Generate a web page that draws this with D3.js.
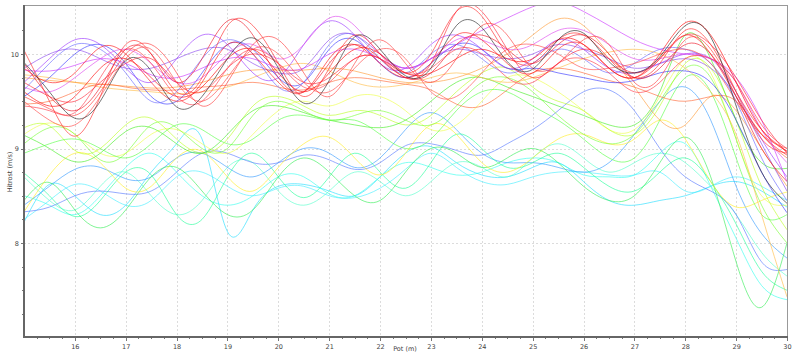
<!doctype html>
<html lang="en">
<head>
  <meta charset="utf-8">
  <title>Hitrost</title>
  <script src="https://d3js.org/d3.v7.min.js"></script>
  <style>
    body { margin: 0; background: #fff; }
    svg text { font-family: "DejaVu Sans", Arial, sans-serif; fill: #444; }
  </style>
</head>
<body>
  <div id="chart"></div>
  <script type="text/javascript">

    var width = 800, height = 354;

    // distance along track (m), one value every half metre
    var pot = d3.range(15, 30.01, 0.5);

    // speed series (m/s)
    var black1 = [9.91,9.6,9.32,9.5,9.93,9.82,9.44,9.55,9.95,10.17,9.85,9.48,9.72,10.18,10.05,9.77,9.85,10.3,10.28,9.92,9.84,10.15,10.22,9.92,9.8,9.97,10.3,10.18,9.45,8.75,8.42];
    var red1 = [10.04,9.5,9.13,9.55,10.1,10.0,9.6,9.75,10.3,10.3,9.9,9.55,9.85,10.2,10.0,9.8,10.0,10.45,10.4,10.0,9.9,10.15,10.2,9.95,9.75,9.9,10.25,10.1,9.6,9.1,8.95];
    var red2 = [9.55,9.42,9.35,9.6,10.0,10.1,9.8,9.45,9.7,10.1,10.15,9.8,9.55,9.9,10.15,9.9,9.7,9.95,10.3,10.2,9.85,9.9,10.15,10.1,9.7,9.75,10.15,10.05,9.6,9.2,8.97];
    var red3 = [9.85,9.7,9.8,10.07,10.0,9.7,9.5,9.7,10.1,10.0,9.7,9.6,9.95,10.1,9.9,9.75,9.9,10.2,10.15,9.9,9.8,10.05,10.1,9.85,9.75,9.95,10.2,10.0,9.55,9.15,8.93];
    var red4 = [9.45,9.4,9.38,9.75,10.05,9.9,9.55,9.5,9.85,10.05,9.9,9.65,9.7,9.95,9.95,9.8,9.85,10.05,10.0,9.75,9.7,9.9,9.95,9.8,9.6,9.7,9.95,9.95,9.7,9.25,9.0];
    var red5 = [9.7,9.55,9.5,9.7,9.9,9.95,9.7,9.6,9.85,10.0,9.9,9.7,9.75,9.95,9.95,9.75,9.9,10.45,10.45,10.05,9.75,9.9,10.05,9.95,9.8,9.95,10.2,10.1,9.75,9.3,8.95];
    var red6 = [9.9,9.55,9.4,9.65,10.05,10.0,9.7,9.95,10.35,10.2,9.75,9.6,9.9,10.1,9.95,9.75,9.8,10.1,10.2,10.05,9.9,10.1,10.2,10.0,9.75,9.85,10.1,10.0,9.55,9.0,8.65];
    var red7 = [9.6,9.45,9.55,9.85,9.95,9.75,9.55,9.65,9.95,10.05,9.8,9.6,9.8,10.05,10.0,9.8,9.8,9.95,10.05,9.95,9.95,10.15,10.1,9.85,9.75,10.0,10.33,10.2,9.7,9.2,8.97];
    var red8 = [9.5,9.3,9.25,9.55,9.95,10.05,9.7,9.5,9.75,10.05,10.0,9.7,9.6,9.85,10.05,9.95,9.6,9.55,9.8,10.05,10.1,10.0,9.85,9.85,9.9,10.0,10.05,9.9,9.5,9.15,9.0];
    var orangeRed = [9.47,9.5,9.6,9.68,9.65,9.62,9.62,9.65,9.67,9.7,9.65,9.62,9.7,9.75,9.72,9.68,9.62,9.47,9.45,9.62,9.8,9.85,9.8,9.72,9.65,9.55,9.5,9.55,9.5,9.15,8.9];
    var orange1 = [9.75,9.72,9.7,9.68,9.66,9.64,9.65,9.7,9.78,9.83,9.83,9.83,9.85,9.82,9.75,9.7,9.7,9.75,9.85,10.0,10.2,10.37,10.3,10.0,9.65,9.3,9.25,9.55,9.4,9.0,8.6];
    var orange2 = [9.78,9.75,9.7,9.65,9.62,9.6,9.58,9.6,9.65,9.75,9.85,9.9,9.82,9.7,9.65,9.68,9.75,9.8,9.75,9.7,9.75,9.85,9.95,10.02,10.05,10.0,9.85,9.6,9.15,8.3,7.43];
    var violet1 = [9.7,9.95,10.15,10.1,9.85,9.7,9.95,10.2,10.1,9.8,9.75,10.1,10.35,10.2,9.9,9.85,10.1,10.2,10.05,9.85,9.95,10.15,10.05,9.85,9.8,9.9,10.0,9.95,9.6,9.1,8.7];
    var violet2 = [9.85,10.0,10.05,9.95,9.85,9.85,9.95,10.05,10.05,9.9,9.8,9.85,10.15,10.2,10.0,9.85,9.95,10.05,10.0,9.95,10.0,10.1,10.05,9.95,9.85,9.9,9.95,9.85,9.55,9.05,8.55];
    var magenta1 = [9.83,9.82,9.88,9.95,9.9,9.78,9.75,9.85,9.95,9.95,9.85,9.85,10.0,10.05,9.95,9.85,9.95,10.1,10.25,10.38,10.5,10.55,10.45,10.3,10.15,10.05,10.0,9.95,9.75,9.3,8.65];
    var magenta2 = [9.65,9.6,9.75,9.95,10.05,9.9,9.7,9.75,10.0,10.1,9.95,10.1,10.38,10.3,10.0,9.85,9.95,10.15,10.15,10.05,10.1,10.25,10.25,10.1,9.95,9.95,10.0,9.95,9.7,9.2,8.85];
    var blue1 = [9.55,9.75,10.0,10.1,9.9,9.55,9.5,9.8,10.1,10.05,9.75,9.7,10.05,10.15,9.9,9.75,9.9,10.1,10.05,9.85,9.85,9.8,9.75,9.7,9.72,9.8,9.82,9.7,9.3,8.75,8.32];
    var blue2 = [9.62,9.9,10.1,10.05,9.8,9.5,9.6,9.95,10.15,10.0,9.65,9.7,10.1,10.2,9.95,9.8,10.0,10.1,9.95,9.8,9.9,10.05,9.95,9.8,9.9,10.05,10.05,9.9,9.5,8.9,8.45];
    var green1 = [9.14,9.0,8.86,8.95,9.18,9.22,9.05,8.95,9.15,9.4,9.45,9.38,9.3,9.25,9.22,9.3,9.5,9.7,9.75,9.65,9.55,9.45,9.35,9.25,9.25,9.6,10.2,9.95,9.3,8.85,8.79];
    var green2 = [9.05,9.22,9.15,8.88,8.95,9.25,9.22,9.0,9.0,9.35,9.5,9.4,9.3,9.35,9.4,9.3,9.25,9.45,9.7,9.75,9.6,9.35,9.15,9.05,9.15,9.5,9.85,9.75,9.1,8.4,8.0];
    var green4 = [8.95,9.05,9.1,9.0,8.9,9.05,9.25,9.2,9.05,9.1,9.3,9.35,9.3,9.3,9.15,9.0,9.1,9.4,9.6,9.6,9.45,9.3,9.1,8.9,8.9,9.3,9.75,9.6,8.9,8.3,8.3];
    var yellowGreen = [9.22,9.24,8.98,9.0,9.25,9.32,9.1,8.95,9.1,9.45,9.55,9.45,9.35,9.4,9.35,9.25,9.35,9.6,9.8,9.85,9.65,9.5,9.4,9.2,9.15,9.45,9.9,9.85,9.3,8.6,8.14];
    var yellow1 = [8.33,8.72,8.95,8.85,8.58,8.6,8.9,8.97,8.7,8.55,8.8,9.05,9.12,8.9,8.72,8.95,9.25,9.15,8.85,8.75,8.9,9.1,9.15,9.05,9.1,9.3,9.1,8.65,8.38,8.45,8.54];
    var yellow2 = [9.15,9.27,9.15,8.95,8.95,9.15,9.2,9.05,8.95,9.15,9.4,9.5,9.45,9.55,9.55,9.4,9.2,9.25,9.5,9.75,9.75,9.6,9.4,9.2,9.2,9.55,9.95,9.8,9.1,8.5,8.4];
    var cyan1 = [8.22,8.62,8.5,8.3,8.4,8.75,9.05,9.1,8.12,8.35,8.6,8.62,8.55,8.5,8.7,8.95,9.02,8.85,8.72,8.7,8.8,8.85,8.65,8.45,8.4,8.45,8.5,8.6,8.65,8.55,8.38];
    var cyan2 = [8.5,8.4,8.3,8.5,8.8,8.95,8.75,8.5,8.4,8.5,8.7,8.7,8.52,8.5,8.7,8.85,8.8,8.72,8.75,8.85,8.9,8.85,8.72,8.7,8.72,8.95,9.05,8.6,8.05,7.55,7.4];
    var cyan3 = [8.7,8.45,8.35,8.6,8.75,8.5,8.3,8.45,8.8,8.85,8.55,8.4,8.55,8.75,8.65,8.5,8.65,8.85,8.8,8.7,8.9,9.05,8.9,8.75,8.85,8.95,8.85,8.6,8.3,7.9,7.65];
    var cyan4 = [8.25,8.45,8.62,8.55,8.4,8.45,8.7,8.75,8.6,8.5,8.58,8.6,8.5,8.48,8.58,8.78,8.95,8.8,8.65,8.62,8.7,8.75,8.75,8.72,8.72,8.75,8.55,8.6,8.7,8.6,8.45];
    var lightBlue = [8.4,8.6,8.78,8.8,8.68,8.7,8.9,8.95,8.8,8.7,8.85,9.0,8.95,8.8,8.9,9.2,9.38,9.2,8.95,8.85,8.85,8.8,8.75,8.85,9.15,9.5,9.65,9.3,8.6,8.1,7.84];
    var blue3 = [8.33,8.38,8.5,8.55,8.52,8.55,8.75,8.95,8.95,8.85,8.85,8.93,8.88,8.78,8.85,9.03,9.05,8.98,8.93,9.05,9.2,9.4,9.6,9.62,9.4,9.0,8.7,8.55,8.3,7.8,7.72];
    var springGreen = [8.74,8.5,8.28,8.45,8.75,8.72,8.3,8.25,8.7,8.95,8.7,8.48,8.7,8.95,8.75,8.58,8.85,9.15,9.0,8.8,8.85,8.95,8.8,8.6,8.55,8.75,8.9,8.65,8.2,7.7,7.5];
    var green3 = [8.45,8.64,8.35,8.16,8.35,8.7,8.8,8.55,8.3,8.35,8.7,8.9,8.75,8.5,8.45,8.75,9.0,8.95,8.8,8.9,9.0,8.85,8.6,8.45,8.5,8.85,9.12,8.7,7.8,7.32,8.0];

    var series = [
      {name: 'cyan1', color: '#22ddff', values: cyan1},
      {name: 'cyan2', color: '#33ffee', values: cyan2},
      {name: 'cyan3', color: '#55ffcc', values: cyan3},
      {name: 'cyan4', color: '#44eeff', values: cyan4},
      {name: 'lightBlue', color: '#3399ff', values: lightBlue},
      {name: 'blue3', color: '#5577ff', values: blue3},
      {name: 'springGreen', color: '#22ff99', values: springGreen},
      {name: 'green3', color: '#33ee55', values: green3},
      {name: 'yellow1', color: '#ffee22', values: yellow1},
      {name: 'yellow2', color: '#eeff44', values: yellow2},
      {name: 'yellowGreen', color: '#bbff22', values: yellowGreen},
      {name: 'green1', color: '#44ee22', values: green1},
      {name: 'green2', color: '#77ff33', values: green2},
      {name: 'green4', color: '#55ff44', values: green4},
      {name: 'orange2', color: '#ffbb44', values: orange2},
      {name: 'orange1', color: '#ff9933', values: orange1},
      {name: 'orangeRed', color: '#ff6633', values: orangeRed},
      {name: 'blue1', color: '#3333ff', values: blue1},
      {name: 'blue2', color: '#6666ff', values: blue2},
      {name: 'violet1', color: '#9933ff', values: violet1},
      {name: 'violet2', color: '#8844ee', values: violet2},
      {name: 'magenta1', color: '#cc33ff', values: magenta1},
      {name: 'magenta2', color: '#dd44ee', values: magenta2},
      {name: 'red1', color: '#ff2222', values: red1},
      {name: 'red2', color: '#ff3333', values: red2},
      {name: 'red3', color: '#ff1111', values: red3},
      {name: 'red4', color: '#ff3344', values: red4},
      {name: 'red5', color: '#ff2233', values: red5},
      {name: 'red6', color: '#ee1122', values: red6},
      {name: 'red7', color: '#ff0000', values: red7},
      {name: 'red8', color: '#ff4444', values: red8},
      {name: 'black1', color: '#222222', values: black1}
    ];

    // plot box (note: "top" is reserved on window, so use other names)
    var boxL = 24, boxR = 788, boxT = 5, boxB = 337;

    var x = d3.scaleLinear().domain([15, 30]).range([boxL, 787]);
    var y = d3.scaleLinear().domain([7, 10.5]).range([337.5, 6.75]);

    var svg = d3.select('#chart')
            .append('svg')
            .attr('width', width)
            .attr('height', height);

    svg.append('defs').append('clipPath')
        .attr('id', 'plotclip')
      .append('rect')
        .attr('x', boxL).attr('y', boxT)
        .attr('width', boxR - boxL).attr('height', boxB - boxT);

    // grid
    var grid = svg.append('g');
    grid.selectAll('.vgrid')
        .data(d3.range(16, 30))
        .enter().append('line')
        .attr('x1', function(d) { return Math.round(x(d)) + 0.5; })
        .attr('x2', function(d) { return Math.round(x(d)) + 0.5; })
        .attr('y1', boxT).attr('y2', boxB)
        .attr('stroke', '#dcdcdc')
        .attr('stroke-dasharray', '2,2');
    grid.selectAll('.hgrid')
        .data([8, 9, 10])
        .enter().append('line')
        .attr('y1', function(d) { return Math.round(y(d)) + 0.5; })
        .attr('y2', function(d) { return Math.round(y(d)) + 0.5; })
        .attr('x1', boxL).attr('x2', boxR)
        .attr('stroke', '#dcdcdc')
        .attr('stroke-dasharray', '2,2');

    var line = d3.line()
        .x(function(d, i) { return x(pot[i]); })
        .y(function(d) { return y(d); })
        .curve(d3.curveNatural);

    svg.append('g')
        .attr('clip-path', 'url(#plotclip)')
      .selectAll('path')
        .data(series)
        .enter().append('path')
        .attr('d', function(s) { return line(s.values); })
        .attr('fill', 'none')
        .attr('stroke', function(s) { return s.color; })
        .attr('stroke-width', 1)
        .attr('stroke-opacity', 0.62);

    // frame
    svg.append('rect')
        .attr('x', boxL + 0.5).attr('y', boxT + 0.5)
        .attr('width', boxR - boxL - 1).attr('height', boxB - boxT - 1)
        .attr('fill', 'none')
        .attr('stroke', '#999');

    // x axis
    var xAxis = d3.axisBottom(x)
        .tickValues(d3.range(16, 31))
        .tickFormat(d3.format('d'))
        .tickSize(0)
        .tickPadding(7);
    var gx = svg.append('g')
        .attr('transform', 'translate(0,' + boxB + ')')
        .call(xAxis);
    gx.select('.domain').remove();
    gx.selectAll('text').attr('font-size', 6.5).attr('fill', '#444');

    svg.append('g').selectAll('line')
        .data(d3.range(15.25, 30.01, 0.25))
        .enter().append('line')
        .attr('x1', function(d) { return Math.round(x(d)) + 0.5; })
        .attr('x2', function(d) { return Math.round(x(d)) + 0.5; })
        .attr('y1', boxB).attr('y2', function(d) { return d % 1 === 0 ? boxB + 4 : boxB + 2; })
        .attr('stroke', '#777');

    // y axis
    var yAxis = d3.axisLeft(y)
        .tickValues([8, 9, 10])
        .tickFormat(d3.format('d'))
        .tickSize(0)
        .tickPadding(5);
    var gy = svg.append('g')
        .attr('transform', 'translate(' + boxL + ',0)')
        .call(yAxis);
    gy.select('.domain').remove();
    gy.selectAll('text').attr('font-size', 6.5).attr('fill', '#444');

    svg.append('g').selectAll('line')
        .data(d3.range(7.25, 10.5, 0.25))
        .enter().append('line')
        .attr('y1', function(d) { return Math.round(y(d)) + 0.5; })
        .attr('y2', function(d) { return Math.round(y(d)) + 0.5; })
        .attr('x1', boxL).attr('x2', function(d) { return d % 1 === 0 ? boxL - 3 : boxL - 2; })
        .attr('stroke', '#777');

    // axis lines
    svg.append('line')
        .attr('x1', boxL).attr('x2', boxL)
        .attr('y1', boxT).attr('y2', boxB + 1)
        .attr('stroke', '#666').attr('stroke-width', 2);
    svg.append('line')
        .attr('x1', boxL - 1).attr('x2', boxR)
        .attr('y1', boxB).attr('y2', boxB)
        .attr('stroke', '#666').attr('stroke-width', 2);

    // axis titles
    svg.append('text')
        .attr('x', 405).attr('y', 351)
        .attr('text-anchor', 'middle')
        .attr('font-size', 6.5)
        .text('Pot (m)');
    svg.append('text')
        .attr('transform', 'translate(12,172) rotate(-90)')
        .attr('text-anchor', 'middle')
        .attr('font-size', 6.5)
        .text('Hitrost (m/s)');

  </script>
</body>
</html>
